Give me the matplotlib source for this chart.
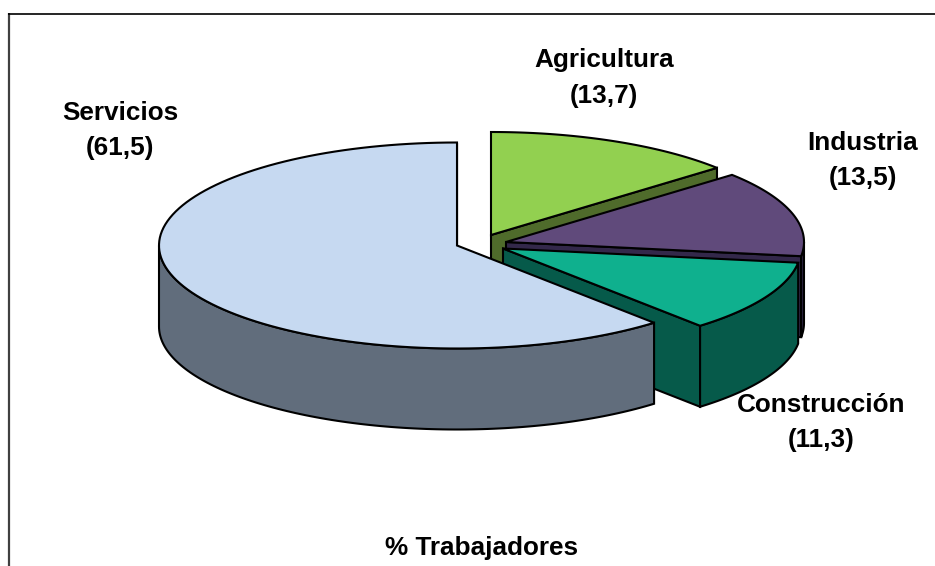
import matplotlib
matplotlib.use("Agg")
import matplotlib.pyplot as plt
import numpy as np
from matplotlib.patches import Polygon

# clockwise from 12 o'clock
labels = ["Agricultura", "Industria", "Construcción", "Servicios"]
values = [13.7, 13.5, 11.3, 61.5]
value_labels = ["(13,7)", "(13,5)", "(11,3)", "(61,5)"]
title = "% Trabajadores"

top_colors = ["#92D050", "#604A7B", "#0FB08E", "#C6D9F1"]
side_colors = ["#4F6B2B", "#33284A", "#065A4A", "#616D7C"]
centers = [(491, 235), (506, 242), (503, 248.5), (457, 245.5)]
RX, RY, DEPTH = 298, 103, 81
label_pos = [(604, 78), (863, 160), (821, 422), (120, 130)]


def rim(cx, cy, a0, a1, n=120):
    t = np.radians(np.linspace(a0, a1, n))
    return np.column_stack((cx + RX * np.sin(t), cy - RY * np.cos(t)))


def draw_slice(ax, cx, cy, a0, a1, top, side):
    arc = rim(cx, cy, a0, a1)
    # radial wall on the clockwise end of the slice
    end = arc[-1]
    wall = [(cx, cy), end, (end[0], end[1] + DEPTH), (cx, cy + DEPTH)]
    ax.add_patch(Polygon(wall, closed=True, fc=side, ec="black", lw=1.5, joinstyle="miter"))
    # outer wall, only the part that faces the viewer
    lo, hi = max(a0, 90), min(a1, 270)
    if lo < hi:
        front = rim(cx, cy, lo, hi)
        low = front[::-1] + [0, DEPTH]
        ax.add_patch(Polygon(np.vstack((front, low)), closed=True, fc=side, ec="black", lw=1.5))
    ax.add_patch(Polygon(np.vstack(([(cx, cy)], arc)), closed=True, fc=top, ec="black", lw=1.5, joinstyle="miter"))


fig = plt.figure(figsize=(9.35, 5.66), dpi=100)
ax = fig.add_axes([0, 0, 1, 1])
ax.set_xlim(0, 935)
ax.set_ylim(566, 0)
ax.axis("off")

# chart frame, cut off by the right and bottom of the picture
ax.plot([9, 9], [566, 13], color="#404040", lw=1.6, solid_capstyle="butt")
ax.plot([8, 935], [13.5, 13.5], color="black", lw=1.2, solid_capstyle="butt")

edges = np.cumsum([0] + values) / sum(values) * 360
for i in range(len(values)):
    cx, cy = centers[i]
    draw_slice(ax, cx, cy, edges[i], edges[i + 1], top_colors[i], side_colors[i])

font = {"family": "Liberation Sans", "fontweight": "bold", "fontsize": 18.8, "ha": "center", "va": "center"}
for name, val, (x, y) in zip(labels, value_labels, label_pos):
    ax.text(x, y - 17.5, name, **font)
    ax.text(x, y + 17.5, val, **font)
ax.text(482, 548, title, **font)

fig.savefig("out.png", dpi=100)
plt.close(fig)
